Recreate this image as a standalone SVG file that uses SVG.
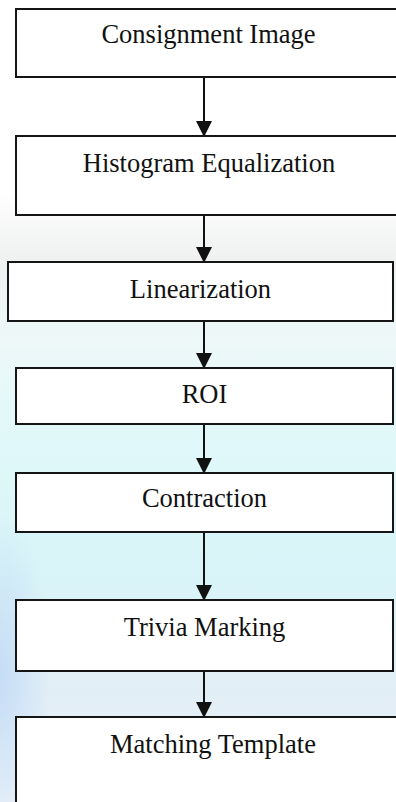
<svg xmlns="http://www.w3.org/2000/svg" width="396" height="802" viewBox="0 0 396 802">
<defs>
<style>
.box{fill:#ffffff;stroke:#151515;stroke-width:2}
.lbl{font-family:"Liberation Serif","Times New Roman",serif;font-size:26.5px;fill:#111;text-anchor:middle}
.edge{stroke:#111;stroke-width:2;fill:none}
</style>
<marker id="ah" markerUnits="userSpaceOnUse" markerWidth="16" markerHeight="18" refX="15" refY="8" orient="auto" viewBox="0 0 16 16">
<path d="M0,0 L16,8 L0,16 Z" fill="#111"/>
</marker>
<linearGradient id="bg" x1="0" y1="0" x2="0" y2="1">
<stop offset="0" stop-color="#ffffff"/>
<stop offset="0.24" stop-color="#ffffff"/>
<stop offset="0.32" stop-color="#f0f1f1"/>
<stop offset="0.42" stop-color="#eef8f8"/>
<stop offset="0.55" stop-color="#e0f8f9"/>
<stop offset="0.72" stop-color="#d8f4f8"/>
<stop offset="0.86" stop-color="#e2eef6"/>
<stop offset="1" stop-color="#e8f0f8"/>
</linearGradient>
<radialGradient id="lb" cx="0" cy="0.6" r="0.5">
<stop offset="0" stop-color="#c4dcf6" stop-opacity="0.95"/>
<stop offset="1" stop-color="#c4dcf6" stop-opacity="0"/>
</radialGradient>
</defs>
<rect x="0" y="0" width="396" height="802" fill="url(#bg)"/>
<rect x="0" y="480" width="100" height="322" fill="url(#lb)"/>
<g id="connectors">
<line class="edge" x1="204" y1="77" x2="204" y2="136" marker-end="url(#ah)"/>
<line class="edge" x1="204" y1="215" x2="204" y2="262" marker-end="url(#ah)"/>
<line class="edge" x1="204" y1="321" x2="204" y2="368" marker-end="url(#ah)"/>
<line class="edge" x1="204" y1="424" x2="204" y2="473" marker-end="url(#ah)"/>
<line class="edge" x1="204" y1="532" x2="204" y2="600" marker-end="url(#ah)"/>
<line class="edge" x1="204" y1="671" x2="204" y2="717" marker-end="url(#ah)"/>
</g>
<g id="consignment-image">
<rect class="box" x="16" y="9" width="386" height="68"/>
<text class="lbl" x="208.5" y="43">Consignment Image</text>
</g>
<g id="histogram-equalization">
<rect class="box" x="16" y="136" width="386" height="79"/>
<text class="lbl" x="209" y="172">Histogram Equalization</text>
</g>
<g id="linearization">
<rect class="box" x="8" y="262" width="385" height="59"/>
<text class="lbl" x="200.5" y="298">Linearization</text>
</g>
<g id="roi">
<rect class="box" x="16" y="368" width="377" height="56"/>
<text class="lbl" x="204.5" y="403">ROI</text>
</g>
<g id="contraction">
<rect class="box" x="16" y="473" width="377" height="59"/>
<text class="lbl" x="204.5" y="507">Contraction</text>
</g>
<g id="trivia-marking">
<rect class="box" x="16" y="600" width="377" height="71"/>
<text class="lbl" x="204.5" y="636">Trivia Marking</text>
</g>
<g id="matching-template">
<rect class="box" x="16" y="717" width="394" height="100"/>
<text class="lbl" x="213" y="753">Matching Template</text>
</g>
</svg>
